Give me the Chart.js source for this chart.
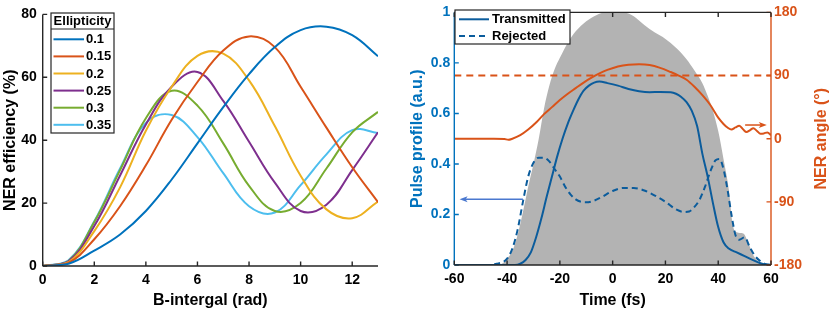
<!DOCTYPE html>
<html>
<head>
<meta charset="utf-8">
<script src="https://cdn.jsdelivr.net/npm/chart.js@4.4.1/dist/chart.umd.min.js"></script>
<style>
  html, body { margin: 0; padding: 0; background: #fff; }
  #wrap { position: relative; width: 830px; height: 310px; }
  #left { position: absolute; left: 0; top: 0; }
  #right { position: absolute; left: 400px; top: 0; }
</style>
</head>
<body>
<div id="wrap">
  <canvas id="left" width="400" height="310"></canvas>
  <canvas id="right" width="430" height="310"></canvas>
</div>
<script>
// ---- left panel: NER efficiency vs B-integral ----
const bIntegral = [0, 1, 2, 3, 4, 5, 6, 7, 8, 9, 10, 11, 12, 13];
const ellipticity = ['0.1', '0.15', '0.2', '0.25', '0.3', '0.35'];
const ner010 = [0, 0.7, 4.9, 10, 17.5, 27.5, 39, 50.5, 61, 69.6, 75, 76.1, 73.4, 66.7];
const ner015 = [0, 1.0, 8.5, 19, 32, 46.5, 58.5, 68.5, 73, 69.6, 57, 44, 31.4, 20.3];
const ner020 = [0, 1.2, 11.1, 25, 43, 57, 66.8, 67.5, 59, 44.5, 28.7, 18, 15.2, 20.5];
const ner025 = [0, 1.5, 12.7, 28.8, 45, 57, 61.7, 52.5, 39.5, 26.5, 17.5, 19.5, 30.5, 42.5];
const ner030 = [0, 1.6, 14, 30.5, 47, 55.7, 51, 39, 25.5, 17.5, 20, 31, 42.5, 49];
const ner035 = [0, 1.8, 14.2, 31, 45.5, 48, 41, 29.5, 19, 17, 25.7, 35.5, 43.2, 42.3];
const lineColors = ['#0072BD', '#D95319', '#EDB120', '#7E2F8E', '#77AC30', '#4DBEEE'];

// ---- right panel: pulse profiles and NER angle ----
const grayTime = [-60, -45, -42, -40, -38, -36, -34, -32, -30, -28, -26, -24, -22, -20, -17, -14, -10, -6, -3, 0, 4, 8, 12, 16, 20, 24, 28, 31, 34, 36, 38, 40, 42, 44, 45.5, 47, 49.5, 51.5, 53.5, 56, 58, 60];
const grayPulse = [0, 0, 0.005, 0.025, 0.055, 0.12, 0.21, 0.31, 0.40, 0.50, 0.62, 0.71, 0.775, 0.82, 0.88, 0.925, 0.965, 0.99, 1.0, 1.0, 1.0, 0.985, 0.95, 0.92, 0.895, 0.86, 0.815, 0.77, 0.72, 0.67, 0.61, 0.53, 0.42, 0.30, 0.16, 0.13, 0.125, 0.085, 0.035, 0.01, 0.003, 0];

const transTime = [-60, -37, -35, -33, -31, -29, -27, -25, -23, -21, -19, -17, -15, -13, -11, -9, -7, -5, -2, 2, 6, 10, 14, 18, 22, 24, 26, 28, 30, 32, 34, 36, 38, 40, 42, 44, 47, 50, 53, 56, 58, 60];
const transPulse = [0, 0, 0.005, 0.02, 0.05, 0.11, 0.185, 0.27, 0.35, 0.43, 0.50, 0.56, 0.61, 0.655, 0.69, 0.71, 0.722, 0.726, 0.72, 0.71, 0.697, 0.688, 0.684, 0.685, 0.684, 0.678, 0.665, 0.645, 0.61, 0.55, 0.44, 0.35, 0.245, 0.15, 0.09, 0.065, 0.05, 0.035, 0.02, 0.007, 0.002, 0];

const rejTime = [-60, -46, -44, -42, -40, -38, -36, -34, -32, -30, -28, -26, -24, -22, -20, -18, -16, -14, -12, -10, -7, -4, 0, 4, 8, 12, 16, 20, 24, 27, 29, 31, 33, 35, 37, 39, 40.5, 42, 43.5, 45, 46.5, 48, 50, 52, 54, 56, 58, 60];
const rejPulse = [0, 0, 0.005, 0.01, 0.025, 0.065, 0.14, 0.25, 0.35, 0.405, 0.425, 0.425, 0.41, 0.38, 0.35, 0.31, 0.28, 0.26, 0.25, 0.248, 0.255, 0.27, 0.293, 0.305, 0.305, 0.295, 0.275, 0.25, 0.22, 0.21, 0.212, 0.23, 0.26, 0.31, 0.37, 0.415, 0.42, 0.38, 0.30, 0.20, 0.12, 0.10, 0.11, 0.07, 0.035, 0.015, 0.003, 0];

const angleTime = [-60, -45, -41, -39.5, -38, -35, -32, -29, -26, -23, -20, -17, -14, -11, -8, -5, -2, 2, 6, 10, 14, 18, 22, 25, 28, 31, 34, 37, 40, 42, 43.5, 45, 46.5, 48, 49.5, 50.7, 52, 53.3, 54.7, 56, 57.3, 58.6, 60];
const angleDeg = [0, 0, -0.5, -1.5, 0, 5, 13, 23, 35, 45, 55, 64, 72, 80, 87, 93, 98, 103, 105.5, 106, 105, 101, 95, 90, 84, 74, 62, 48, 30, 21, 16, 13, 16, 18.5, 13, 9.5, 12, 15, 11, 7, 7.5, 9, 5];

const refTime = [-60, 60];
const refAngle = [90, 90];

const pulseTicks = [0, 0.2, 0.4, 0.6, 0.8, 1];
const angleTicks = [-180, -90, 0, 90, 180];

// annotation arrows (data units)
const pulseArrow = { from: -34, to: -58, at: 0.26 };
const angleArrow = { from: 50.2, to: 58.4, at: 19.5 };

const FONT = 'Arial, "Liberation Sans", sans-serif';
const DARK = '#262626';
const BLUE = '#0072BD';
const ORANGE = '#D95319';
const PULSE = '#0b5c9c';

Chart.defaults.font.family = FONT;
Chart.defaults.font.weight = 'bold';
Chart.defaults.font.size = 14;

function toXY(xs, ys) {
    return xs.map((x, i) => ({ x: x, y: ys[i] }));
}

// axis lines with inward tick marks (MATLAB look)
function makeFrame(edges) {
    return {
        id: 'frame',
        afterDraw(chart) {
            const { ctx, chartArea: a, scales } = chart;
            const tl = 4.5;
            ctx.save();
            ctx.lineWidth = 1.4;
            edges.forEach(e => {
                const sc = scales[e.scale];
                ctx.strokeStyle = e.color;
                ctx.beginPath();
                if (e.side === 'left' || e.side === 'right') {
                    const x = e.side === 'left' ? a.left : a.right;
                    const dir = e.side === 'left' ? 1 : -1;
                    ctx.moveTo(x, a.top);
                    ctx.lineTo(x, a.bottom);
                    sc.ticks.forEach(t => {
                        const y = sc.getPixelForValue(t.value);
                        ctx.moveTo(x, y);
                        ctx.lineTo(x + dir * tl, y);
                    });
                } else {
                    const y = e.side === 'bottom' ? a.bottom : a.top;
                    const dir = e.side === 'bottom' ? -1 : 1;
                    ctx.moveTo(a.left, y);
                    ctx.lineTo(a.right, y);
                    sc.ticks.forEach(t => {
                        const x = sc.getPixelForValue(t.value);
                        ctx.moveTo(x, y);
                        ctx.lineTo(x, y + dir * tl);
                    });
                }
                ctx.stroke();
            });
            ctx.restore();
        }
    };
}

// boxed legend like the MATLAB one
function makeLegend(box) {
    return {
        id: 'boxLegend',
        afterDraw(chart) {
            const ctx = chart.ctx;
            ctx.save();
            ctx.fillStyle = '#fff';
            ctx.fillRect(box.x, box.y, box.w, box.h);
            ctx.strokeStyle = DARK;
            ctx.lineWidth = 1.2;
            ctx.strokeRect(box.x, box.y, box.w, box.h);
            ctx.font = 'bold 13px ' + FONT;
            ctx.textBaseline = 'middle';
            if (box.title) {
                ctx.fillStyle = '#000';
                ctx.textAlign = 'center';
                ctx.fillText(box.title, box.x + box.w / 2, box.titleY);
                ctx.beginPath();
                ctx.moveTo(box.x, box.sepY);
                ctx.lineTo(box.x + box.w, box.sepY);
                ctx.stroke();
            }
            ctx.textAlign = 'left';
            box.items.forEach((idx, k) => {
                const ds = chart.data.datasets[idx];
                const y = box.rowY + k * box.rowStep;
                ctx.strokeStyle = ds.borderColor;
                ctx.lineWidth = 2;
                ctx.setLineDash(ds.borderDash || []);
                ctx.beginPath();
                ctx.moveTo(box.lineX0, y);
                ctx.lineTo(box.lineX1, y);
                ctx.stroke();
                ctx.setLineDash([]);
                ctx.fillStyle = '#000';
                ctx.fillText(ds.label, box.textX, y + 0.5);
            });
            ctx.restore();
        }
    };
}

function drawArrow(ctx, x0, y, x1, color) {
    const dir = x1 > x0 ? 1 : -1;
    ctx.strokeStyle = color;
    ctx.fillStyle = color;
    ctx.lineWidth = 1.5;
    ctx.beginPath();
    ctx.moveTo(x0, y);
    ctx.lineTo(x1 - dir * 4, y);
    ctx.stroke();
    ctx.beginPath();
    ctx.moveTo(x1, y);
    ctx.lineTo(x1 - dir * 8, y - 3);
    ctx.lineTo(x1 - dir * 6, y);
    ctx.lineTo(x1 - dir * 8, y + 3);
    ctx.closePath();
    ctx.fill();
}

const rightExtras = {
    id: 'rightExtras',
    afterDraw(chart) {
        const { ctx, chartArea: a, scales } = chart;
        ctx.save();
        drawArrow(ctx, scales.x.getPixelForValue(pulseArrow.from), scales.y.getPixelForValue(pulseArrow.at),
            scales.x.getPixelForValue(pulseArrow.to), '#4a78cf');
        drawArrow(ctx, scales.x.getPixelForValue(angleArrow.from), scales.y2.getPixelForValue(angleArrow.at),
            scales.x.getPixelForValue(angleArrow.to), ORANGE);
        // right axis title reads bottom-to-top in the original
        ctx.translate(421.5, (a.top + a.bottom) / 2);
        ctx.rotate(-Math.PI / 2);
        ctx.font = 'bold 16px ' + FONT;
        ctx.fillStyle = ORANGE;
        ctx.textAlign = 'center';
        ctx.textBaseline = 'middle';
        ctx.fillText('NER angle (\u00B0)', 0, 0);
        ctx.restore();
    }
};

const noGrid = { display: false, drawTicks: false };

// ---------- left chart ----------
const nerSeries = [ner010, ner015, ner020, ner025, ner030, ner035];

new Chart(document.getElementById('left'), {
    type: 'line',
    data: {
        datasets: nerSeries.map((vals, i) => ({
            label: ellipticity[i],
            data: toXY(bIntegral, vals),
            borderColor: lineColors[i],
            borderWidth: 2,
            pointRadius: 0,
            tension: 0.4
        }))
    },
    options: {
        responsive: false,
        animation: false,
        layout: { padding: { left: 0, top: 9, right: 22, bottom: 0 } },
        plugins: { legend: { display: false }, tooltip: { enabled: false } },
        scales: {
            x: {
                type: 'linear', min: 0, max: 13,
                grid: noGrid,
                border: { display: false },
                ticks: { stepSize: 2, includeBounds: false, color: '#000', padding: 6, autoSkip: false, maxRotation: 0 },
                title: { display: true, text: 'B-intergal (rad)', color: '#000', font: { size: 16, weight: 'bold' }, padding: { top: 0, bottom: 0 } },
                afterFit: s => { s.height = 44; }
            },
            y: {
                min: 0, max: 80,
                grid: noGrid,
                border: { display: false },
                ticks: { stepSize: 20, color: '#000', padding: 6 },
                title: { display: true, text: 'NER efficiency (%)', color: '#000', font: { size: 16, weight: 'bold' }, padding: { top: 1, bottom: 0 } },
                afterFit: s => { s.width = 42.7; }
            }
        }
    },
    plugins: [
        makeFrame([
            { side: 'left', scale: 'y', color: DARK },
            { side: 'bottom', scale: 'x', color: DARK }
        ]),
        makeLegend({
            x: 51, y: 13, w: 63, h: 120, title: 'Ellipticity', titleY: 21, sepY: 29,
            items: [0, 1, 2, 3, 4, 5], rowY: 39.3, rowStep: 17.1,
            lineX0: 53.5, lineX1: 84, textX: 86
        })
    ]
});

// ---------- right chart ----------
new Chart(document.getElementById('right'), {
    type: 'line',
    data: {
        datasets: [
            {
                label: 'Transmitted',
                data: toXY(transTime, transPulse),
                borderColor: PULSE, borderWidth: 2, pointRadius: 0,
                cubicInterpolationMode: 'monotone', yAxisID: 'y', order: 3
            },
            {
                label: 'Rejected',
                data: toXY(rejTime, rejPulse),
                borderColor: PULSE, borderWidth: 2, borderDash: [6, 4], pointRadius: 0,
                cubicInterpolationMode: 'monotone', yAxisID: 'y', order: 4
            },
            {
                label: 'Input',
                data: toXY(grayTime, grayPulse),
                borderWidth: 0, borderColor: 'rgba(0,0,0,0)', backgroundColor: '#b3b3b3',
                fill: 'origin', pointRadius: 0,
                cubicInterpolationMode: 'monotone', yAxisID: 'y', order: 6
            },
            {
                label: 'NER angle',
                data: toXY(angleTime, angleDeg),
                borderColor: ORANGE, borderWidth: 2, pointRadius: 0,
                cubicInterpolationMode: 'monotone', yAxisID: 'y2', order: 1
            },
            {
                label: '90 deg',
                data: toXY(refTime, refAngle),
                borderColor: ORANGE, borderWidth: 2, borderDash: [7, 5], pointRadius: 0,
                yAxisID: 'y2', order: 2
            }
        ]
    },
    options: {
        responsive: false,
        animation: false,
        layout: { padding: { left: 0, top: 9, right: 0, bottom: 0 } },
        plugins: { legend: { display: false }, tooltip: { enabled: false } },
        scales: {
            x: {
                type: 'linear', min: -60, max: 60,
                grid: noGrid,
                border: { display: false },
                ticks: { stepSize: 20, color: '#000', padding: 6, autoSkip: false, maxRotation: 0 },
                title: { display: true, text: 'Time (fs)', color: '#000', font: { size: 16, weight: 'bold' }, padding: { top: 0, bottom: 0 } },
                afterFit: s => { s.height = 45; }
            },
            y: {
                position: 'left', min: 0, max: 1,
                grid: noGrid,
                border: { display: false },
                afterBuildTicks: s => { s.ticks = pulseTicks.map(v => ({ value: v })); },
                ticks: { color: BLUE, padding: 4, callback: v => String(+v.toFixed(1)) },
                title: { display: true, text: 'Pulse profile (a.u.)', color: BLUE, font: { size: 16, weight: 'bold' }, padding: { top: 8, bottom: 0 } },
                afterFit: s => { s.width = 54.3; }
            },
            y2: {
                position: 'right', min: -180, max: 180,
                grid: noGrid,
                border: { display: false },
                afterBuildTicks: s => { s.ticks = angleTicks.map(v => ({ value: v })); },
                ticks: { color: ORANGE, padding: 3 },
                afterFit: s => { s.width = 59; }
            }
        }
    },
    plugins: [
        makeFrame([
            { side: 'left', scale: 'y', color: BLUE },
            { side: 'right', scale: 'y2', color: ORANGE },
            { side: 'bottom', scale: 'x', color: DARK },
            { side: 'top', scale: 'x', color: DARK }
        ]),
        rightExtras,
        makeLegend({
            x: 55, y: 10, w: 115, h: 34,
            items: [0, 1], rowY: 19.3, rowStep: 16.7,
            lineX0: 59, lineX1: 89, textX: 92
        })
    ]
});
</script>
</body>
</html>
